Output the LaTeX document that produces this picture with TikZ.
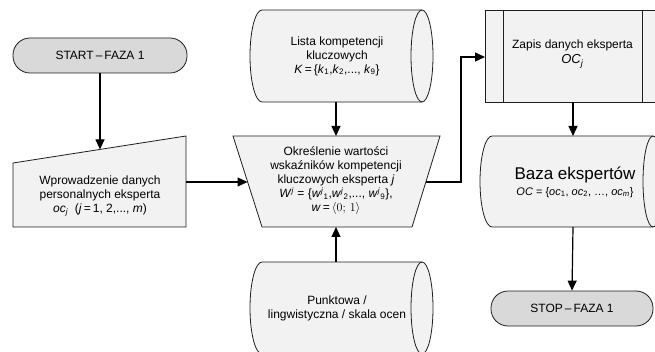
\documentclass[tikz,border=0pt]{standalone}
\usepackage{fontspec}
\setmainfont{Liberation Sans}
\usetikzlibrary{arrows.meta}
\definecolor{termfill}{RGB}{217,217,217}
\definecolor{boxfill}{RGB}{242,242,242}
\definecolor{edgecol}{RGB}{30,30,30}
\newcommand{\ital}[1]{\textit{#1}}
\begin{document}
\begin{tikzpicture}[x=1pt,y=-1pt,
  shapebox/.style={draw=edgecol,line width=0.8pt,fill=boxfill},
  termbox/.style={draw=edgecol,line width=0.8pt,fill=termfill,rounded corners=17pt,minimum width=174pt,minimum height=35pt,inner sep=0pt},
  txt/.style={align=center,font=\fontsize{12}{14}\selectfont,inner sep=0pt},
  conn/.style={draw=black,line width=1.2pt,-{Triangle[length=10pt,width=9pt]}}]
\useasboundingbox (0,0) rectangle (655,352);
\clip (0,0) rectangle (655,352);
\fill[white] (0,0) rectangle (655,352);

% start
\node[termbox,txt] (start) at (100,55.5) {START\kern2pt–\kern2pt FAZA 1};

% manual input
\draw[shapebox] (13,163) -- (186,136) -- (186,227) -- (13,227) -- cycle;
\node[txt] (input) at (100,196) {Wprowadzenie danych\\personalnych eksperta\\\ital{oc}\textsubscript{\ital{j}} \ (\ital{j}\,=\,1, 2,..., \ital{m})};
\coordinate (inTop) at (100,149.4);
\coordinate (inRight) at (186,182);

% top cylinder
\draw[shapebox] (262,10) -- (422,10) arc[start angle=-90,end angle=90,x radius=11,y radius=46]
  -- (262,102) arc[start angle=90,end angle=270,x radius=12,y radius=46] -- cycle;
\draw[edgecol,line width=0.8pt] (422,10) arc[start angle=270,end angle=90,x radius=11,y radius=46];
\node[txt] (list) at (337,56) {Lista kompetencji\\kluczowych\\\ital{K}\,=\,\{\ital{k}\textsubscript{1},\ital{k}\textsubscript{2},..., \ital{k}\textsubscript{9}\}};
\coordinate (listB) at (336,102);

% trapezoid
\draw[shapebox] (233,136) -- (440,136) -- (412,227) -- (262,227) -- cycle;
\node[txt] (det) at (336,181) {Określenie wartości\\wskaźników kompetencji\\kluczowych eksperta \ital{j}\\\ital{W}\textsuperscript{\ital{j}} = \{\ital{w}\textsuperscript{\ital{j}}\textsubscript{1},\ital{w}\textsuperscript{\ital{j}}\textsubscript{2},..., \ital{w}\textsuperscript{\ital{j}}\textsubscript{9}\},\\\ital{w}\,=\,$\langle 0;\,1\rangle$};
\coordinate (detT) at (336,136);
\coordinate (detB) at (336,227);
\coordinate (detL) at (247.5,182);
\coordinate (detR) at (426,182);

% bottom cylinder
\draw[shapebox] (262,262) -- (422,262) arc[start angle=-90,end angle=90,x radius=11,y radius=46]
  -- (262,354) arc[start angle=90,end angle=270,x radius=12,y radius=46] -- cycle;
\draw[edgecol,line width=0.8pt] (422,262) arc[start angle=270,end angle=90,x radius=11,y radius=46];
\node[txt] (scale) at (337,308) {Punktowa /\\lingwistyczna / skala ocen};
\coordinate (scaleT) at (336,262);

% Zapis box
\draw[shapebox] (485,10) rectangle (660,102);
\draw[edgecol,line width=0.8pt] (503,10) -- (503,102) (642,10) -- (642,102);
\node[txt] (zapis) at (572.5,54) {Zapis danych eksperta\\[1pt]{\fontsize{13}{14}\selectfont\ital{OC}\textsubscript{\ital{j}}}};
\coordinate (zapisL) at (485,57);
\coordinate (zapisB) at (573,102);
\coordinate (bend1) at (461,182);
\coordinate (bend2) at (461,57);

% Baza cylinder
\draw[shapebox] (492,136) -- (653,136) arc[start angle=-90,end angle=90,x radius=10,y radius=45.5]
  -- (492,227) arc[start angle=90,end angle=270,x radius=12,y radius=45.5] -- cycle;
\draw[edgecol,line width=0.8pt] (653,136) arc[start angle=270,end angle=90,x radius=10,y radius=45.5];
\node[txt] (baza) at (575,182) {{\fontsize{17}{20}\selectfont Baza ekspertów}\\[2pt]{\fontsize{11}{13}\selectfont\ital{OC} = \{\ital{oc}\textsubscript{1}, \ital{oc}\textsubscript{2}, …, \ital{oc}\textsubscript{\ital{m}}\}}};
\coordinate (bazaT) at (573,136);
\coordinate (bazaB) at (573,227);

% stop
\node[termbox,txt,minimum width=162pt] (stop) at (572,308.5) {STOP\kern2pt–\kern2pt FAZA 1};

% connectors
\draw[conn] (start.south) -- (inTop);
\draw[conn] (inRight) -- (detL);
\draw[conn] (listB) -- (detT);
\draw[conn] (scaleT) -- (detB);
\draw[conn] (detR) -- (bend1) -- (bend2) -- (zapisL);
\draw[conn] (zapisB) -- (bazaT);
\draw[conn] (bazaB) -- (stop.north);
\end{tikzpicture}
\end{document}
